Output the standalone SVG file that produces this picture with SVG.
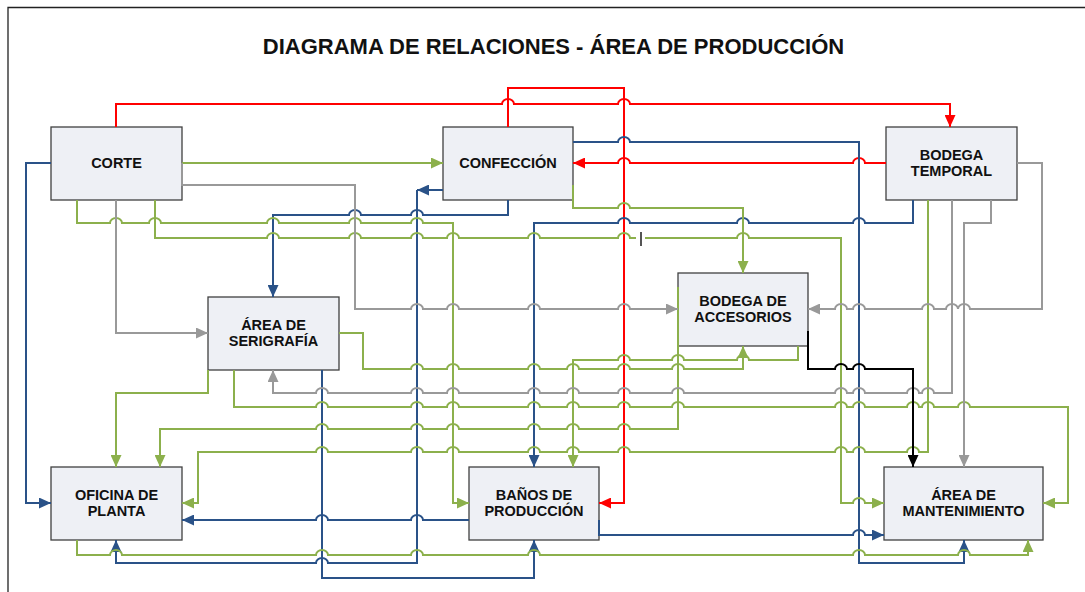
<svg xmlns="http://www.w3.org/2000/svg" width="1085" height="592" viewBox="0 0 1085 592">
<style>
.node rect{fill:#EEF0F5;stroke:#404040;stroke-width:1.3}
.node text{font-family:"Liberation Sans",Arial,sans-serif;font-weight:bold;font-size:14.5px;fill:#111;text-anchor:middle}
.c path{fill:none;stroke-width:2;stroke-linejoin:miter}
.r{stroke:#FF0000}
.b{stroke:#2A5288}
.g{stroke:#8CB04C}
.y{stroke:#999999}
.k{stroke:#000000}
.title{font-family:"Liberation Sans",Arial,sans-serif;font-weight:bold;font-size:22px;fill:#111;text-anchor:middle}
</style>
<defs>
<marker id="ar" markerUnits="userSpaceOnUse" markerWidth="12" markerHeight="11" refX="12" refY="5.5" orient="auto"><path d="M0,0 L12,5.5 L0,11 z" fill="#FF0000"/></marker>
<marker id="ab" markerUnits="userSpaceOnUse" markerWidth="12" markerHeight="11" refX="12" refY="5.5" orient="auto"><path d="M0,0 L12,5.5 L0,11 z" fill="#2A5288"/></marker>
<marker id="ag" markerUnits="userSpaceOnUse" markerWidth="12" markerHeight="11" refX="12" refY="5.5" orient="auto"><path d="M0,0 L12,5.5 L0,11 z" fill="#8CB04C"/></marker>
<marker id="ay" markerUnits="userSpaceOnUse" markerWidth="12" markerHeight="11" refX="12" refY="5.5" orient="auto"><path d="M0,0 L12,5.5 L0,11 z" fill="#999999"/></marker>
<marker id="ak" markerUnits="userSpaceOnUse" markerWidth="12" markerHeight="11" refX="12" refY="5.5" orient="auto"><path d="M0,0 L12,5.5 L0,11 z" fill="#000000"/></marker>
</defs>
<rect width="1085" height="592" fill="#FFFFFF"/>
<path d="M8,592 V7.5 H1085" fill="none" stroke="#222" stroke-width="1.3"/>
<text class="title" x="553.5" y="54">DIAGRAMA DE RELACIONES - ÁREA DE PRODUCCIÓN</text>

<g id="corte" class="node"><rect x="51" y="127" width="131" height="73"/><text x="116.5" y="168">CORTE</text></g>
<g id="confeccion" class="node"><rect x="443" y="127" width="130" height="73"/><text x="508" y="168">CONFECCIÓN</text></g>
<g id="bodega-temporal" class="node"><rect x="886" y="127" width="131" height="73"/><text x="951.5" y="160">BODEGA</text><text x="951.5" y="176">TEMPORAL</text></g>
<g id="serigrafia" class="node"><rect x="208" y="297" width="131" height="73"/><text x="273.5" y="330">ÁREA DE</text><text x="273.5" y="346">SERIGRAFÍA</text></g>
<g id="bodega-accesorios" class="node"><rect x="678" y="273" width="130" height="73"/><text x="743" y="306">BODEGA DE</text><text x="743" y="322">ACCESORIOS</text></g>
<g id="oficina" class="node"><rect x="51" y="467" width="131" height="73"/><text x="116.5" y="500">OFICINA DE</text><text x="116.5" y="516">PLANTA</text></g>
<g id="banos" class="node"><rect x="469" y="467" width="130" height="73"/><text x="534" y="500">BAÑOS DE</text><text x="534" y="516">PRODUCCIÓN</text></g>
<g id="mantenimiento" class="node"><rect x="884" y="467" width="159" height="73"/><text x="963.5" y="500">ÁREA DE</text><text x="963.5" y="516">MANTENIMIENTO</text></g>

<g id="connectors" class="c">
<!-- red -->
<path class="r" marker-end="url(#ar)" d="M116,127 V104 H502 A6,5 0 0 1 514,104 H618 A6,5 0 0 1 630,104 H950 V127"/>
<path class="r" marker-end="url(#ar)" d="M508,127 V88 H624 V503 H599"/>
<path class="r" marker-end="url(#ar)" d="M886,163 H865 A6,5 0 0 0 853,163 H630 A6,5 0 0 0 618,163 H573"/>
<!-- blue -->
<path class="b" marker-end="url(#ab)" d="M573,142 H618 A6,5 0 0 1 630,142 H859 V563 H964 V540"/>
<path class="b" marker-end="url(#ab)" d="M443,190 H417"/>
<path class="b" marker-end="url(#ab)" d="M417,190 V563 H328 A6,5 0 0 0 316,563 H116 V540"/>
<path class="b" marker-end="url(#ab)" d="M508,200 V215 H423 A6,5 0 0 0 411,215 H361 A6,5 0 0 0 349,215 H273 V297"/>
<path class="b" marker-end="url(#ab)" d="M51,163 H26 V503 H51"/>
<path class="b" marker-end="url(#ab)" d="M913,200 V223 H865 A6,5 0 0 0 853,223 H749 A6,5 0 0 0 737,223 H630 A6,5 0 0 0 618,223 H534 V467"/>
<path class="b" marker-end="url(#ab)" d="M322,370 V578 H534 V540"/>
<path class="b" marker-end="url(#ab)" d="M469,520 H423 A6,5 0 0 0 411,520 H328 A6,5 0 0 0 316,520 H182"/>
<path class="b" marker-end="url(#ab)" d="M599,520 V535 H853 A6,5 0 0 1 865,535 H884"/>
<!-- green -->
<path class="g" marker-end="url(#ag)" d="M182,163 H443"/>
<path class="g" marker-end="url(#ag)" d="M77,200 V223 H110 A6,5 0 0 1 122,223 H149 A6,5 0 0 1 161,223 H267 A6,5 0 0 1 279,223 H349 A6,5 0 0 1 361,223 H411 A6,5 0 0 1 423,223 H453 V503 H469"/>
<path class="g" d="M155,200 V238 H267 A6,5 0 0 1 279,238 H349 A6,5 0 0 1 361,238 H411 A6,5 0 0 1 423,238 H447 A6,5 0 0 1 459,238 H528 A6,5 0 0 1 540,238 H618 A6,5 0 0 1 630,238 H636"/>
<path class="g" marker-end="url(#ag)" d="M645,238 H737 A6,5 0 0 1 749,238 H841 V503 H853 A6,5 0 0 1 865,503 H884"/>
<path class="g" marker-end="url(#ag)" d="M573,185 V208 H618 A6,5 0 0 1 630,208 H743 V273"/>
<path class="g" marker-end="url(#ag)" d="M928,200 V452 H919 A6,5 0 0 0 907,452 H865 A6,5 0 0 0 853,452 H847 A6,5 0 0 0 835,452 H630 A6,5 0 0 0 618,452 H579 A6,5 0 0 0 567,452 H540 A6,5 0 0 0 528,452 H459 A6,5 0 0 0 447,452 H423 A6,5 0 0 0 411,452 H328 A6,5 0 0 0 316,452 H198 V503 H182"/>
<path class="g" marker-end="url(#ag)" d="M678,287 V429 H630 A6,5 0 0 0 618,429 H579 A6,5 0 0 0 567,429 H540 A6,5 0 0 0 528,429 H459 A6,5 0 0 0 447,429 H423 A6,5 0 0 0 411,429 H328 A6,5 0 0 0 316,429 H160 V467"/>
<path class="g" marker-end="url(#ag)" d="M208,370 V393 H116 V467"/>
<path class="g" marker-end="url(#ag)" d="M234,370 V407 H316 A6,5 0 0 1 328,407 H411 A6,5 0 0 1 423,407 H447 A6,5 0 0 1 459,407 H528 A6,5 0 0 1 540,407 H567 A6,5 0 0 1 579,407 H618 A6,5 0 0 1 630,407 H672 A6,5 0 0 1 684,407 H835 A6,5 0 0 1 847,407 H853 A6,5 0 0 1 865,407 H907 A6,5 0 0 1 919,407 H922 A6,5 0 0 1 934,407 H958 A6,5 0 0 1 970,407 H1068 V503 H1043"/>
<path class="g" marker-end="url(#ag)" d="M339,333 H363 V369 H411 A6,5 0 0 1 423,369 H447 A6,5 0 0 1 459,369 H528 A6,5 0 0 1 540,369 H567 A6,5 0 0 1 579,369 H618 A6,5 0 0 1 630,369 H672 A6,5 0 0 1 684,369 H743 V346"/>
<path class="g" marker-end="url(#ag)" d="M798,346 V360 H749 A6,5 0 0 0 737,360 H684 A6,5 0 0 0 672,360 H630 A6,5 0 0 0 618,360 H573 V467"/>
<path class="g" marker-end="url(#ag)" d="M77,540 V555 H110 A6,5 0 0 1 122,555 H316 A6,5 0 0 1 328,555 H411 A6,5 0 0 1 423,555 H528 A6,5 0 0 1 540,555 H853 A6,5 0 0 1 865,555 H958 A6,5 0 0 1 970,555 H1028 V540"/>
<!-- gray -->
<path class="y" marker-end="url(#ay)" d="M182,163 V185 H355 V309 H411 A6,5 0 0 1 423,309 H447 A6,5 0 0 1 459,309 H528 A6,5 0 0 1 540,309 H618 A6,5 0 0 1 630,309 H678"/>
<path class="y" marker-end="url(#ay)" d="M116,200 V333 H208"/>
<path class="y" marker-end="url(#ay)" d="M1017,163 H1042 V309 H970 A6,5 0 0 0 958,309 A6,5 0 0 0 946,309 H934 A6,5 0 0 0 922,309 H865 A6,5 0 0 0 853,309 H847 A6,5 0 0 0 835,309 H808"/>
<path class="y" marker-end="url(#ay)" d="M952,200 V393 H934 A6,5 0 0 0 922,393 H919 A6,5 0 0 0 907,393 H865 A6,5 0 0 0 853,393 H847 A6,5 0 0 0 835,393 H684 A6,5 0 0 0 672,393 H630 A6,5 0 0 0 618,393 H579 A6,5 0 0 0 567,393 H540 A6,5 0 0 0 528,393 H459 A6,5 0 0 0 447,393 H423 A6,5 0 0 0 411,393 H328 A6,5 0 0 0 316,393 H273 V370"/>
<path class="y" marker-end="url(#ay)" d="M991,200 V223 H964 V467"/>
<!-- black -->
<path class="k" marker-end="url(#ak)" d="M808,331 V369 H835 A6,5 0 0 1 847,369 H853 A6,5 0 0 1 865,369 H913 V467"/>
<path d="M641,232 V246" stroke="#555555" stroke-width="2"/>
</g>
</svg>
